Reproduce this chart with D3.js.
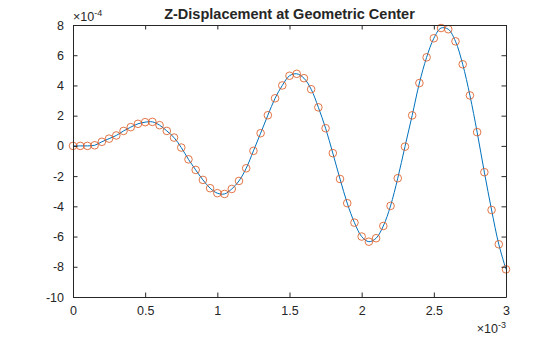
<!DOCTYPE html>
<html>
<head>
<meta charset="utf-8">
<script src="https://cdn.jsdelivr.net/npm/d3@7"></script>
<style>
  html, body { margin: 0; padding: 0; background: #fff; }
  svg { display: block; font-family: "Liberation Sans", Arial, Helvetica, sans-serif; }
</style>
</head>
<body>
<svg id="chart" width="560" height="337"></svg>
<script>
// Time samples (×1e-3 s) and Z-displacement at the geometric center (×1e-4)
const time = [
  0, 0.05, 0.1, 0.15, 0.2, 0.25, 0.3, 0.35, 0.4, 0.45,
  0.5, 0.55, 0.6, 0.65, 0.7, 0.75, 0.8, 0.85, 0.9, 0.95,
  1.0, 1.05, 1.1, 1.15, 1.2, 1.25, 1.3, 1.35, 1.4, 1.45,
  1.5, 1.55, 1.6, 1.65, 1.7, 1.75, 1.8, 1.85, 1.9, 1.95,
  2.0, 2.05, 2.1, 2.15, 2.2, 2.25, 2.3, 2.35, 2.4, 2.45,
  2.5, 2.55, 2.6, 2.65, 2.7, 2.75, 2.8, 2.85, 2.9, 2.95, 3.0
];
const zDisp = [
  0, 0, 0, 0.04, 0.27, 0.48, 0.69, 0.99, 1.24, 1.46,
  1.57, 1.59, 1.37, 0.99, 0.55, -0.11, -0.89, -1.59, -2.25, -2.8,
  -3.13, -3.18, -2.85, -2.32, -1.48, -0.33, 0.84, 2.03, 3.15, 4.0,
  4.64, 4.77, 4.48, 3.75, 2.55, 1.17, -0.48, -2.19, -3.79, -5.08,
  -6.0, -6.34, -6.11, -5.3, -3.97, -2.14, -0.05, 2.02, 4.16, 5.86,
  7.12, 7.8, 7.72, 6.92, 5.4, 3.34, 0.91, -1.74, -4.24, -6.51, -8.17
];
const xTicks = [0, 0.5, 1, 1.5, 2, 2.5, 3];
const yTicks = [-10, -8, -6, -4, -2, 0, 2, 4, 6, 8];
const titleText = "Z-Displacement at Geometric Center";

const svg = d3.select("#chart");
const m = { left: 73, right: 506, top: 25, bottom: 297 };
const ink = "#262626";

const x = d3.scaleLinear().domain([0, 3]).range([m.left, m.right]);
const y = d3.scaleLinear().domain([-10, 8]).range([m.bottom, m.top]);

const data = time.map((t, i) => ({ t, z: zDisp[i] }));

// Smooth response line
const line = d3.line()
  .x(d => x(d.t)).y(d => y(d.z))
  .curve(d3.curveCatmullRom.alpha(0.5));

const plot = svg.append("g");

plot.append("path")
  .datum(data)
  .attr("d", line)
  .attr("fill", "none")
  .attr("stroke", "#0072BD")
  .attr("stroke-width", 1);

// Sampled values as open circles
plot.selectAll("circle.pt")
  .data(data)
  .enter().append("circle")
  .attr("class", "pt")
  .attr("cx", d => x(d.t))
  .attr("cy", d => y(d.z))
  .attr("r", 3.8)
  .attr("fill", "none")
  .attr("stroke", "#D95319")
  .attr("stroke-width", 0.8);

// Axes with inward ticks on all four sides
const tickLen = 4.5;
const fs = "12.5px";
const plain = d => String(d);

const bottomAxis = d3.axisBottom(x).tickValues(xTicks).tickSizeInner(-tickLen).tickSizeOuter(0)
  .tickPadding(9).tickFormat(plain);
const topAxis = d3.axisTop(x).tickValues(xTicks).tickSizeInner(-tickLen).tickSizeOuter(0)
  .tickFormat("");
const leftAxis = d3.axisLeft(y).tickValues(yTicks).tickSizeInner(-tickLen).tickSizeOuter(0)
  .tickPadding(9).tickFormat(plain);
const rightAxis = d3.axisRight(y).tickValues(yTicks).tickSizeInner(-tickLen).tickSizeOuter(0)
  .tickFormat("");

function styleAxis(g) {
  g.select(".domain").attr("stroke", ink).attr("stroke-width", 1);
  g.selectAll(".tick line").attr("stroke", ink).attr("stroke-width", 1);
  g.selectAll(".tick text").attr("fill", ink).style("font-size", fs)
    .style("font-family", '"Liberation Sans", Arial, Helvetica, sans-serif');
}

svg.append("g").attr("transform", `translate(0,${m.bottom})`).call(bottomAxis).call(styleAxis);
svg.append("g").attr("transform", `translate(0,${m.top})`).call(topAxis).call(styleAxis);
svg.append("g").attr("transform", `translate(${m.left},0)`).call(leftAxis).call(styleAxis);
svg.append("g").attr("transform", `translate(${m.right},0)`).call(rightAxis).call(styleAxis);

// Exponent multipliers
const yExp = svg.append("text")
  .attr("x", m.left).attr("y", 20.5)
  .attr("fill", ink).style("font-size", "12.5px");
yExp.append("tspan").text("\u00d710");
yExp.append("tspan").attr("dy", -5).style("font-size", "9px").text("-4");

const xExp = svg.append("text")
  .attr("x", m.right).attr("y", 333)
  .attr("text-anchor", "end")
  .attr("fill", ink).style("font-size", "12.5px");
xExp.append("tspan").text("\u00d710");
xExp.append("tspan").attr("dy", -5).style("font-size", "9px").text("-3");

// Title
svg.append("text")
  .attr("x", (m.left + m.right) / 2).attr("y", 18.5)
  .attr("text-anchor", "middle")
  .attr("fill", ink)
  .style("font-size", "14.5px").style("font-weight", "bold")
  .text(titleText);
</script>
</body>
</html>
